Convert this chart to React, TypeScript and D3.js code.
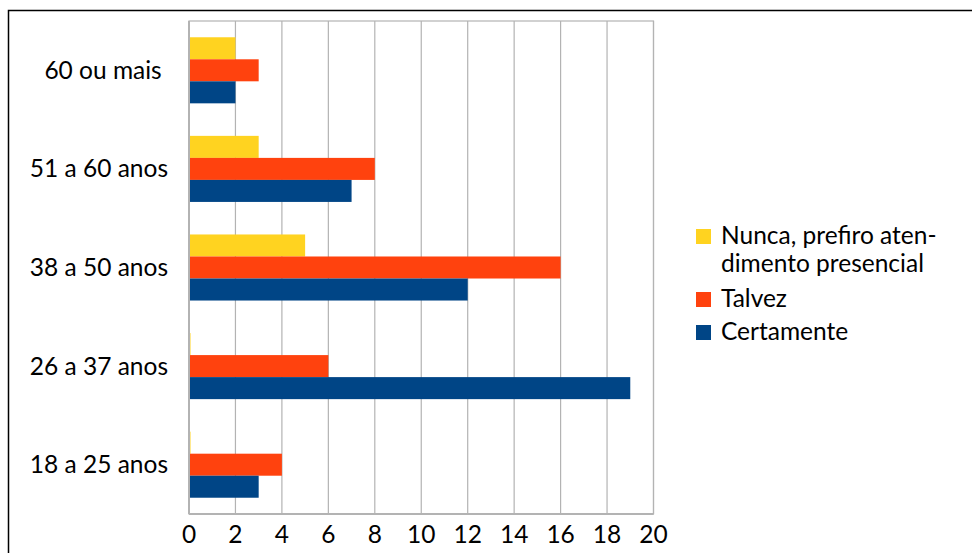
import React, { useEffect, useRef } from 'react';
import * as d3 from 'd3';

const categories = ['60 ou mais ', '51 a 60 anos', '38 a 50 anos', '26 a 37 anos', '18 a 25 anos'];
const seriesNames = ['Nunca, prefiro atendimento presencial', 'Talvez', 'Certamente'];
const nunca = [2, 3, 5, 0, 0];
const talvez = [3, 8, 16, 6, 4];
const certamente = [2, 7, 12, 19, 3];
const xTicks = [0, 2, 4, 6, 8, 10, 12, 14, 16, 18, 20];
const colors = ['#FFD320', '#FF420E', '#004586'];

const App: React.FC = () => {
    const ref = useRef<SVGSVGElement | null>(null);

    useEffect(() => {
        const svg = d3.select(ref.current);
        svg.selectAll('*').remove();
        const font = 'Lato, "Noto Sans", sans-serif';
        const fontSize = 24.5;

        // outer frame, running off the right and bottom edges
        svg.append('path')
            .attr('d', 'M8.5,1000 V10.5 H1000')
            .attr('fill', 'none')
            .attr('stroke', '#000')
            .attr('stroke-width', 1.5);

        const plot = { left: 189, right: 653.5, top: 21, bottom: 514 };

        const x = d3.scaleLinear().domain([0, 20]).range([plot.left, plot.right]);
        const y = d3.scaleBand<string>()
            .domain(categories)
            .range([plot.top, plot.bottom])
            .paddingInner(0.33)
            .paddingOuter(0.165);
        const sub = d3.scaleBand<string>().domain(seriesNames).range([0, y.bandwidth()]);

        // grid
        svg.append('g')
            .selectAll('line')
            .data(xTicks)
            .join('line')
            .attr('x1', d => x(d))
            .attr('x2', d => x(d))
            .attr('y1', plot.top)
            .attr('y2', plot.bottom)
            .attr('stroke', '#b3b3b3')
            .attr('stroke-width', 1.2);

        svg.append('rect')
            .attr('x', plot.left)
            .attr('y', plot.top)
            .attr('width', plot.right - plot.left)
            .attr('height', plot.bottom - plot.top)
            .attr('fill', 'none')
            .attr('stroke', '#b3b3b3')
            .attr('stroke-width', 1.2);

        // bars (zero values still leave a hairline, as in the original)
        const values = [nunca, talvez, certamente];
        values.forEach((vals, si) => {
            svg.append('g')
                .selectAll('rect')
                .data(vals)
                .join('rect')
                .attr('x', x(0))
                .attr('y', (_, i) => (y(categories[i]) ?? 0) + (sub(seriesNames[si]) ?? 0))
                .attr('width', d => Math.max(x(d) - x(0), 1.5))
                .attr('height', sub.bandwidth())
                .attr('fill', colors[si]);
        });

        // axis lines
        svg.append('line')
            .attr('x1', plot.left)
            .attr('x2', plot.left)
            .attr('y1', plot.top)
            .attr('y2', plot.bottom)
            .attr('stroke', '#b3b3b3')
            .attr('stroke-width', 2);
        svg.append('line')
            .attr('x1', plot.left)
            .attr('x2', plot.right)
            .attr('y1', plot.bottom)
            .attr('y2', plot.bottom)
            .attr('stroke', '#b3b3b3')
            .attr('stroke-width', 2);

        // tick labels
        svg.append('g')
            .selectAll('text')
            .data(xTicks)
            .join('text')
            .attr('x', d => x(d))
            .attr('y', 543)
            .attr('text-anchor', 'middle')
            .attr('font-family', font)
            .attr('font-size', fontSize)
            .attr('fill', '#000')
            .text(d => String(d));

        // category labels
        svg.append('g')
            .selectAll('text')
            .data(categories)
            .join('text')
            .attr('x', 168)
            .attr('y', d => (y(d) ?? 0) + y.bandwidth() / 2)
            .attr('dy', '0.35em')
            .attr('text-anchor', 'end')
            .attr('font-family', font)
            .attr('font-size', fontSize)
            .style('white-space', 'pre')
            .attr('fill', '#000')
            .text(d => d);

        // legend
        const legend = [
            { color: colors[0], lines: ['Nunca, prefiro aten-', 'dimento presencial'], top: 229 },
            { color: colors[1], lines: ['Talvez'], top: 292 },
            { color: colors[2], lines: ['Certamente'], top: 325 },
        ];
        const lg = svg.append('g');
        legend.forEach(item => {
            lg.append('rect')
                .attr('x', 696)
                .attr('y', item.top)
                .attr('width', 15)
                .attr('height', 15)
                .attr('fill', item.color);
            item.lines.forEach((line, li) => {
                lg.append('text')
                    .attr('x', 721)
                    .attr('y', item.top + 15 + li * 28)
                    .attr('font-family', font)
                    .attr('font-size', fontSize)
                    .attr('fill', '#000')
                    .text(line);
            });
        });
    }, []);

    return (
        <svg
            ref={ref}
            width={972}
            height={553}
            style={{ position: 'absolute', left: 0, top: 0, background: '#fff' }}
        />
    );
};

export default App;
